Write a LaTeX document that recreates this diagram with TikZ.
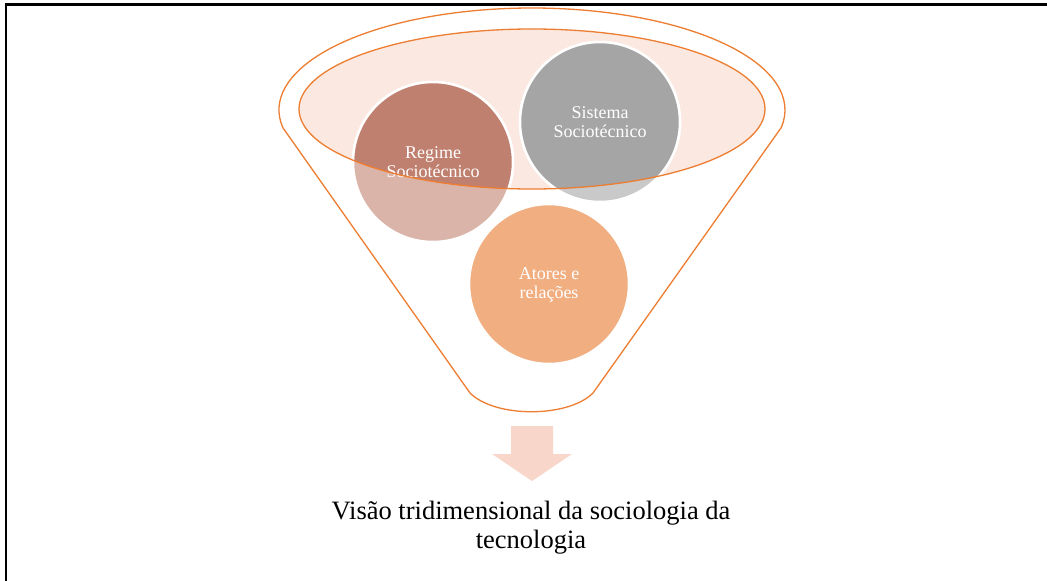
\documentclass[tikz,border=0pt]{standalone}
\usepackage{fontspec}
\setmainfont{Liberation Serif}
\definecolor{ellfill}{RGB}{251,233,225}
\definecolor{orangeline}{RGB}{237,125,49}
\definecolor{regimeDark}{RGB}{192,128,111}
\definecolor{regimeLight}{RGB}{218,180,169}
\definecolor{grayDark}{RGB}{165,165,165}
\definecolor{grayLight}{RGB}{201,201,201}
\definecolor{atoresC}{RGB}{241,174,128}
\definecolor{arrowC}{RGB}{248,214,201}
\begin{document}
\begin{tikzpicture}[x=1pt,y=1pt,
  bubble/.style={circle, minimum size=160pt, inner sep=0pt, draw=white, line width=2.5pt},
  bubbletext/.style={align=center, text=white, inner sep=0pt, font=\fontsize{18}{19.5}\selectfont},
  funnelline/.style={draw=orangeline, line width=1.3pt}]
\useasboundingbox (0,0) rectangle (1047,-581);
\fill[white] (0,0) rectangle (1047,-581);
% frame
\draw[line width=2.2pt] (1047,-4.5) -- (6,-4.5) -- (6,-581);
% inner ellipse fill
\fill[ellfill] (532,-109) ellipse [x radius=233pt, y radius=80pt];
% circles (light parts)
\node[bubble, fill=regimeLight] (regime) at (433,-162) {};
\node[bubble, fill=grayLight] (sistema) at (600,-122) {};
\node[bubble, fill=atoresC] (atores) at (549,-284) {};
% darker parts inside the ellipse
\begin{scope}
  \clip (532,-109) ellipse [x radius=233pt, y radius=80pt];
  \filldraw[fill=regimeDark, draw=white, line width=2.5pt] (regime.center) circle (80pt);
  \filldraw[fill=grayDark, draw=white, line width=2.5pt] (sistema.center) circle (80pt);
\end{scope}
% texts
\node[bubbletext] (regimeText) at (433,-162) {Regime\\Sociotécnico};
\node[bubbletext] (sistemaText) at (600,-122) {Sistema\\Sociotécnico};
\node[bubbletext] (atoresText) at (549,-285) {Atores e\\relações};
% outlines
\draw[funnelline] (532,-109) ellipse [x radius=233pt, y radius=80pt];
\draw[funnelline] (532,-110) ++(190:253pt and 102pt)
  arc[start angle=190, end angle=-10, x radius=253pt, y radius=102pt]
  -- (593,-393) .. controls (568,-418) and (495,-418) .. (470,-393) -- cycle;
% arrow
\fill[arrowC] (511,-426) -- (553,-426) -- (553,-454) -- (572,-454) -- (532,-481)
  -- (492,-454) -- (511,-454) -- cycle;
% bottom label
\node[anchor=north, align=center, inner sep=0pt, font=\fontsize{26.5}{29}\selectfont]
  (label) at (531,-501) {Visão tridimensional da sociologia da\\tecnologia};
\end{tikzpicture}
\end{document}
